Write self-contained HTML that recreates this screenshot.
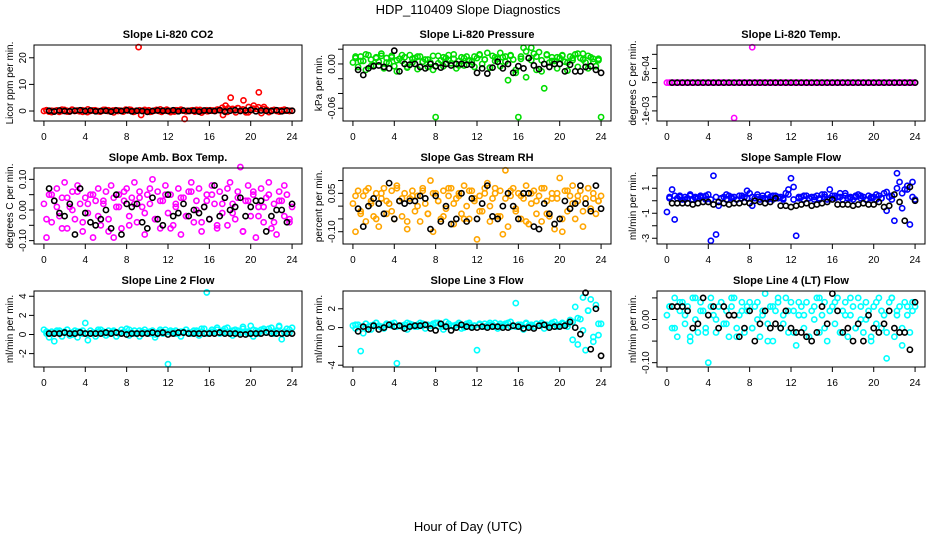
<!DOCTYPE html>
<html><head><meta charset="utf-8"><style>
html,body{margin:0;padding:0;background:#fff;}
svg{display:block;font-family:"Liberation Sans",Arial,sans-serif;}
</style></head><body>
<svg id="chart" width="936" height="540" viewBox="0 0 936 540" xmlns="http://www.w3.org/2000/svg">
<rect width="936" height="540" fill="#fff"/>
<text x="468" y="14" text-anchor="middle" font-size="13">HDP_110409  Slope Diagnostics</text>
<text x="468" y="531" text-anchor="middle" font-size="13">Hour of Day (UTC)</text>
<g id="panels"></g>
</svg>
<script>
const xTicks = [0,4,8,12,16,20,24];
const titles = ["Slope Li-820 CO2","Slope Li-820 Pressure","Slope Li-820 Temp.","Slope Amb. Box Temp.","Slope Gas Stream RH","Slope Sample Flow","Slope Line 2 Flow","Slope Line 3 Flow","Slope Line 4 (LT) Flow"];
const yTitles = ["Licor ppm per min.","kPa per min.","degrees C per min.","degrees C per min.","percent per min.","ml/min per min.","ml/min per min.","ml/min per min.","ml/min per min."];
const colors = ["#ff0000","#00dd00","#ff00ff","#ff00ff","#ffa500","#0000ff","#00ffff","#00ffff","#00ffff"];
const yDomains = [[-3.75,24.8],[-0.0773,0.0257],[-0.001357,0.00133],[-0.111,0.137],[-0.148,0.149],[-3.46,2.62],[-3.4,4.55],[-4.19,3.89],[-0.11,0.066]];
const yTickVals = [[0,10,20],[0.02,0,-0.02,-0.04,-0.06],[0.001,0.0005,0,-0.0005,-0.001],[0.1,0.05,0,-0.05,-0.1],[0.1,0.05,0,-0.05,-0.1],[2,1,0,-1,-2,-3],[4,2,0,-2],[2,0,-2,-4],[0.05,0,-0.05,-0.1]];
const yTickLabels = [["0","10","20"],["","0.00","","","-0.06"],["","5e-04","","","-1e-03"],["0.10","","0.00","","-0.10"],["","0.05","","","-0.10"],["","1","","-1","","-3"],["4","2","0","-2"],["2","0","","-4"],["","0.00","","-0.10"]];

const colored0 = [0,0.3,-0.2,0.1,0,0.2,-0.3,0,0.4,0.1,-0.2,0.5,0,0.2,-0.1,0.3,0.1,-0.4,0,0.2,0.3,0,-0.2,0.1,0.4,0,-0.1,0.2,0.3,0,0.1,-0.2,0.5,0.2,0.4,-0.3,0.1,24,-1.5,0.2,0,0.3,-0.2,0.1,0.4,0,-0.3,0.2,0.5,0.1,0,-0.2,0.3,0.1,0.2,-3,0.1,0,0.3,-0.2,0.2,0.4,0,0.1,-0.1,0.3,0.2,0,0.5,0.3,-1.5,2,1,5,0.5,-0.5,1,0.3,4,-0.5,1.5,0.3,2,0.8,7,-0.8,1.5,0.5,-0.3,0.2,0.4,0,-0.2,0.3,0.1,0.2,0,0.1];
const colored1 = [0.002,0.008,-0.004,0.010,0.004,-0.008,0.012,0.006,-0.002,0.009,0.003,0.014,-0.006,0.008,0.001,0.011,-0.003,-0.010,0.007,0.004,0.009,-0.005,0.012,0.002,0.008,-0.007,0.010,0.003,0.006,-0.004,0.002,-0.008,-0.072,0.011,0.005,-0.003,0.008,0.012,0.001,0.007,-0.006,0.004,0.009,-0.002,0.010,0.005,0.003,-0.004,0.008,0.013,0.000,0.006,0.015,-0.005,0.011,0.004,0.007,-0.003,0.009,0.010,-0.022,0.012,0.006,-0.012,-0.072,0.010,0.022,-0.018,0.008,0.022,0.014,-0.008,0.016,0.005,-0.033,0.012,0.002,0.009,0.004,-0.006,0.008,0.011,0.003,-0.009,0.010,0.005,0.013,-0.004,0.008,0.014,0.002,-0.006,0.009,0.007,-0.003,0.005,-0.072];
const colored2 = [0,0,0,0,0,0,0,0,0,0,0,0,0,0,0,0,0,0,0,0,0,0,0,0,0,0,-0.00125,0,0,0,0,0,0,0.00125,0,0,0,0,0,0,0,0,0,0,0,0,0,0,0,0,0,0,0,0,0,0,0,0,0,0,0,0,0,0,0,0,0,0,0,0,0,0,0,0,0,0,0,0,0,0,0,0,0,0,0,0,0,0,0,0,0,0,0,0,0,0,0];
const colored3 = [0.02,-0.09,0.05,-0.04,0.03,0.07,-0.02,0.04,0.09,-0.06,0.01,0.06,-0.03,0.08,0.02,-0.07,0.04,-0.01,0.05,-0.09,0.03,0.07,-0.05,0.02,0.06,-0.03,0.08,-0.09,0.01,0.05,-0.06,0.03,0.07,-0.02,0.04,0.09,-0.04,0.06,0.01,-0.08,0.05,0.02,0.10,-0.03,0.06,-0.06,0.03,0.08,-0.01,0.05,-0.05,0.02,0.07,-0.08,0.04,-0.02,0.06,0.09,-0.04,0.03,0.07,-0.07,0.01,0.05,-0.03,0.08,0.02,-0.06,0.06,-0.01,0.04,-0.05,0.09,0.02,-0.03,0.06,0.14,-0.07,0.03,0.08,-0.02,0.05,-0.09,0.01,0.07,-0.04,0.04,0.09,-0.06,0.02,-0.08,0.06,0.03,-0.02,0.05,-0.04,0.01];
const colored4 = [0.01,-0.10,0.06,-0.02,0.04,-0.06,0.07,0.02,-0.04,0.05,-0.08,0.03,0.07,-0.03,0.01,0.06,-0.05,0.08,0.02,-0.04,0.05,-0.09,0.03,0.06,-0.02,0.04,-0.06,0.07,0.01,-0.03,0.10,-0.10,0.05,0.02,-0.05,0.06,-0.01,0.04,0.07,-0.07,0.03,0.05,-0.03,0.08,0.00,-0.05,0.06,0.02,-0.13,0.04,-0.02,0.07,0.09,-0.06,0.03,0.05,-0.04,0.06,-0.11,0.14,-0.08,0.04,0.07,-0.02,0.05,-0.05,0.03,0.08,-0.07,0.01,0.06,-0.03,0.04,-0.06,0.07,0.02,-0.04,0.05,-0.09,0.03,0.11,-0.10,0.06,-0.02,0.04,0.08,-0.05,0.02,0.06,-0.08,0.03,0.07,-0.01,0.05,-0.03,0.02,0.04];
const colored5 = [-0.9,0.3,0.9,-1.5,0.2,0.4,0.1,0.3,0.2,0.4,0.1,0.3,0.2,0.4,0.3,0.1,0.5,-3.2,2.0,-2.7,-0.4,0.2,0.3,0.1,0.4,0.2,0.3,0.1,0.4,0.2,0.3,0.8,0.6,-0.4,0.2,0.3,0.1,0.4,0.2,0.5,0.3,0.1,0.4,0.2,0.3,0.1,0.6,0.9,1.8,1.1,-2.8,0.2,0.3,0.1,0.4,0.2,0.3,0.1,0.4,0.2,0.5,0.3,0.1,0.9,0.4,0.2,0.3,0.6,0.1,0.4,0.2,0.3,0.1,0.4,0.5,0.2,0.3,0.1,0.4,0.2,0.3,0.1,0.4,0.2,0.6,-0.8,0.3,0.1,-1.6,2.2,1.5,-0.6,0.9,1.2,-1.9,1.5,0.1];
const colored6 = [0.5,0.1,-0.3,0.3,-0.7,0.2,0.4,-0.2,0.3,0.5,-0.1,0.2,0.4,-0.3,0.3,0.1,1.2,-0.6,0.4,0.2,-0.2,0.3,0.5,0.1,-0.1,0.4,0.2,0.3,-0.2,0.1,0.5,0.3,0.6,-0.1,0.2,0.4,0.1,-0.2,0.3,0.5,0.2,0.1,0.4,-0.3,0.2,0.3,0.1,0.5,-3.1,0.2,0.3,0.4,0.1,-0.2,0.3,0.5,0.2,0.1,0.4,0.2,-0.1,0.3,0.6,4.4,0.2,0.5,0.3,0.7,0.1,0.4,0.6,0.2,0.3,-0.1,0.5,0.4,0.2,0.8,0.3,0.1,0.9,-0.2,0.4,0.3,0.5,0.6,0.2,0.3,0.7,0.1,0.4,0.9,-0.5,0.3,0.6,0.2,0.7];
const colored7 = [0.2,-0.1,0.3,-2.5,-0.6,0.4,0.1,-0.2,0.3,0.5,0.2,0.1,-0.1,0.4,0.3,0.2,0.5,-3.8,0.2,0.1,0.3,-0.2,0.4,0.2,0.1,0.3,0.5,0.2,-0.1,0.3,0.2,0.4,0.5,0.1,0.3,-0.2,0.6,0.4,0.2,0.1,0.3,0.5,-0.1,0.2,0.4,0.3,0.1,0.2,-2.4,0.3,0.1,0.4,0.2,0.5,0.3,0.1,-0.1,0.4,0.2,0.3,0.5,0.1,0.2,2.6,0.3,0.1,-0.2,0.4,0.2,0.3,0.1,0.4,0.2,0.5,-0.1,0.3,0.2,0.4,0.6,0.1,0.3,0.5,0.2,0.4,0.8,-1.3,2.2,-1.8,0.9,3.2,-2.4,1.8,3.0,-1.5,2.4,-0.8,0.4];
const colored8 = [0.01,0.03,-0.02,0.05,-0.04,0.02,0.04,-0.01,0.03,-0.05,0.05,0.00,-0.03,0.04,0.02,-0.02,-0.10,0.05,0.01,-0.03,0.03,0.04,-0.01,0.02,-0.04,0.03,0.05,-0.02,0.01,0.04,-0.03,0.02,0.04,-0.02,0.03,0.00,-0.04,0.02,0.06,-0.01,0.03,-0.05,0.02,0.04,-0.02,0.01,0.05,-0.03,0.04,0.02,-0.06,0.01,0.03,-0.02,0.04,-0.04,0.02,0.00,0.05,-0.03,0.01,0.04,-0.05,0.02,0.03,-0.01,0.05,-0.03,0.02,0.04,-0.04,0.01,0.03,-0.02,0.05,0.00,-0.03,0.04,0.02,-0.05,0.03,-0.01,0.05,-0.02,0.01,-0.09,0.04,0.05,-0.04,0.02,0.03,-0.06,0.04,0.01,-0.03,0.02,0.03];

const extra0 = [0.3,-0.4,0.2,0.5,-0.2,0.4,0.1,-0.3,0.6,0.2,-0.1,0.4,0.3,-0.5,0.2,0.1,0.5,-0.2,0.3,0.4,-0.3,0.2,0.6,0.1,-0.4,0.3,0.5,-0.1,0.2,0.4,-0.6,0.3,0.1,0.5,1.2,-0.3,0.8,1.1,0.6,-0.5,0.9,1.4,0.7,-0.4,0.3,0.2,0.5,0.1];
const extra1 = [0.010,0.004,0.013,-0.003,0.008,0.011,0.002,0.009,0.005,0.012,-0.004,0.007,0.010,0.003,0.006,0.011,0.001,0.009,0.005,0.013,-0.002,0.008,0.004,0.010,0.012,0.006,-0.005,0.009,0.015,0.003,0.011,-0.008,0.007,0.017,0.005,0.010,-0.010,0.013,0.004,0.009,0.012,0.002,0.008,0.014,0.006,0.011,0.003,0.007];
const extra2 = [0,0,0,0,0,0,0,0,0,0,0,0,0,0,0,0,0,0,0,0,0,0,0,0,0,0,0,0,0,0,0,0,0,0,0,0,0,0,0,0,0,0,0,0,0,0,0,0];
const extra3 = [-0.03,0.05,0.01,-0.06,0.04,0.00,0.06,-0.04,0.02,0.05,-0.02,0.03,-0.07,0.04,0.01,0.06,-0.05,0.02,0.04,-0.01,0.07,-0.03,0.03,0.05,-0.06,0.01,0.04,-0.02,0.06,0.00,-0.04,0.03,0.05,-0.05,0.02,0.07,-0.01,0.04,-0.07,0.03,0.06,-0.02,0.01,0.05,-0.04,0.03,0.08,-0.03];
const extra4 = [0.04,-0.03,0.06,0.01,-0.05,0.05,0.02,-0.02,0.07,0.03,-0.06,0.04,0.00,0.06,-0.03,0.05,0.02,-0.04,0.07,0.01,0.04,-0.05,0.06,0.03,-0.02,0.05,0.00,0.07,-0.04,0.03,0.06,-0.01,0.04,-0.06,0.05,0.02,0.07,-0.03,0.03,0.05,-0.05,0.06,0.01,0.04,-0.02,0.07,0.03,0.02];
const extra5 = [0.2,0.4,0.3,0.1,0.5,0.2,0.3,0.4,0.1,0.3,0.2,0.5,0.3,0.1,0.4,0.2,0.3,0.5,0.2,0.1,0.4,0.3,0.2,0.5,0.1,0.3,0.4,0.2,0.3,0.1,0.5,0.2,0.4,0.3,0.6,0.2,0.3,0.4,0.1,0.3,0.5,0.2,0.7,0.4,1.0,0.6,0.9,0.3];
const extra6 = [0.3,0.1,0.4,0.2,0.5,0.0,0.3,0.4,0.1,0.2,0.5,0.3,0.1,0.4,0.2,0.3,0.5,0.1,0.4,0.2,0.3,0.0,0.5,0.2,0.4,0.1,0.3,0.5,0.2,0.4,0.6,0.1,0.3,0.5,0.2,0.7,0.4,0.2,0.6,0.3,0.5,0.1,0.4,0.6,0.3,0.8,0.2,0.5];
const extra7 = [0.3,0.1,0.4,0.2,0.5,0.0,0.3,0.4,0.1,0.2,0.5,0.3,0.1,0.4,0.2,0.3,0.5,0.1,0.4,0.2,0.3,0.0,0.5,0.2,0.4,0.1,0.3,0.5,0.2,0.4,0.6,0.1,0.3,0.5,0.2,0.4,0.3,0.2,0.5,0.3,0.4,0.1,0.6,1.0,-0.3,1.8,-1.0,0.4];
const extra8 = [0.03,-0.02,0.04,0.01,-0.04,0.05,0.02,-0.03,0.03,0.00,0.04,-0.01,0.05,-0.04,0.02,0.03,-0.02,0.04,0.01,-0.05,0.03,0.05,-0.01,0.02,-0.03,0.04,0.01,-0.04,0.03,0.05,-0.02,0.02,0.04,-0.03,0.01,0.05,-0.02,0.03,0.00,-0.04,0.04,0.02,-0.03,0.05,0.01,-0.02,0.03,0.04];

const black0 = [0.1,-0.2,0.2,0,-0.1,0.1,0.3,0,0.2,-0.1,0,0.1,-0.2,0.2,0,0.3,-0.1,0.1,0,-0.3,0,0.2,0.1,0,0.3,-0.1,0.2,0,0.1,-0.2,0.2,0.1,0,0.3,-0.2,0.1,0.3,0,0.2,0.4,-0.1,0.2,0.1,0,0.3,-0.1,0.2,0.1];
const black1 = [-0.008,-0.015,-0.006,-0.003,-0.002,-0.004,-0.006,0.018,-0.010,0.000,-0.001,0.000,-0.004,-0.006,0.000,-0.003,-0.005,0.000,-0.002,0.000,0.000,-0.001,-0.001,-0.012,-0.006,-0.013,-0.005,0.003,-0.006,0.000,-0.012,-0.003,-0.006,0.008,-0.002,-0.007,0.000,-0.004,0.000,0.000,-0.010,-0.001,-0.010,-0.010,-0.004,-0.003,-0.008,-0.012];
const black2 = [0,0,0,0,0,0,0,0,0,0,0,0,0,0,0,0,0,0,0,0,0,0,0,0,0,0,0,0,0,0,0,0,0,0,0,0,0,0,0,0,0,0,0,0,0,0,0,0];
const black3 = [0.07,0.03,-0.01,-0.02,0.02,-0.08,0.07,-0.01,-0.04,-0.05,-0.03,0.00,-0.06,0.05,-0.08,0.02,0.01,0.02,-0.04,-0.06,0.04,-0.03,-0.05,0.05,-0.02,-0.01,0.02,-0.02,0.00,-0.01,0.01,-0.03,0.08,-0.02,0.04,0.00,0.01,0.04,-0.02,0.01,0.03,0.03,-0.07,-0.02,0.00,0.00,-0.04,0.02];
const black4 = [-0.01,-0.08,0.00,0.03,0.01,-0.03,0.09,-0.05,0.02,0.01,0.02,0.02,0.04,0.03,-0.09,0.04,-0.06,0.00,-0.07,-0.05,0.05,-0.06,0.03,-0.05,0.01,0.08,-0.04,-0.05,0.00,0.05,0.00,-0.05,0.05,0.05,-0.08,-0.09,0.01,-0.03,-0.07,-0.05,0.02,-0.01,0.01,0.08,0.01,-0.02,0.08,-0.01];
const black5 = [-0.2,-0.2,-0.2,-0.2,-0.3,-0.2,-0.1,-0.1,-0.3,-0.1,-0.2,-0.3,-0.2,-0.2,-0.1,-0.2,0.0,-0.1,-0.2,-0.1,0.2,-0.4,-0.4,-0.5,-0.4,-0.3,-0.2,-0.4,-0.3,-0.2,-0.1,0.1,-0.3,-0.3,-0.3,-0.4,-0.3,-0.2,-0.3,-0.3,-0.1,-0.5,-0.4,0.5,-0.1,-1.6,1.1,0.0];
const black6 = [0.1,0.1,0.1,0.2,0.1,0.1,0.2,0.1,0.1,0.1,0.1,0.2,0.1,0.2,0.1,0.0,0.1,0.1,0.1,0.1,0.2,0.1,0.2,0.0,0.1,0.2,0.2,0.1,0.1,0.1,0.1,0.1,0.1,0.2,0.1,0.1,0.1,0.0,0.0,0.1,0.1,0.1,0.2,0.1,0.1,0.1,0.1,0.1];
const black7 = [-0.4,0.1,-0.2,0.2,-0.2,0.0,0.3,0.1,0.2,-0.1,0.1,0.2,0.2,0.3,-0.1,-0.3,0.4,0.1,-0.3,0.0,0.3,0.1,0.0,0.0,0.1,0.0,0.1,0.1,0.0,0.0,0.2,0.1,-0.1,0.0,-0.1,0.2,0.3,0.0,0.1,0.1,0.2,0.6,0.0,-0.7,3.7,-2.3,2.0,-3.0];
const black8 = [0.03,0.03,0.03,0.02,-0.02,-0.01,0.05,0.01,0.03,-0.02,0.03,0.01,0.01,-0.04,-0.02,0.02,-0.05,-0.01,0.02,-0.02,-0.01,-0.02,0.02,-0.02,-0.03,-0.03,-0.04,-0.05,-0.03,0.03,-0.01,0.06,0.02,-0.03,-0.02,-0.05,-0.01,-0.05,0.01,-0.02,-0.03,-0.01,0.02,-0.02,-0.03,-0.03,-0.07,0.04];

const coloredSeries = [colored0,colored1,colored2,colored3,colored4,colored5,colored6,colored7,colored8];
const extraSeries = [extra0,extra1,extra2,extra3,extra4,extra5,extra6,extra7,extra8];
const blackSeries = [black0,black1,black2,black3,black4,black5,black6,black7,black8];

const NS = "http://www.w3.org/2000/svg";
const root = document.getElementById("panels");
const colX = [34,343,657], rowY = [45,168,291], W = 268, H = 76;
function mk(tag, attrs, parent){ const e=document.createElementNS(NS,tag); for(const k in attrs) e.setAttribute(k,attrs[k]); parent.appendChild(e); return e; }

for(let p=0;p<9;p++){
  const bx = colX[p%3], by = rowY[Math.floor(p/3)];
  const g = mk("g",{},root);
  
  
  const xs = h => bx + (h + 0.96) / 25.92 * W;
  const [y0,y1] = yDomains[p];
  const ys = v => by + H - (v - y0) / (y1 - y0) * H;
  const t = mk("text",{x:bx+W/2,y:by-7,"text-anchor":"middle","font-size":"11","font-weight":"bold"},g);
  t.textContent = titles[p];
  
  
  const yt = mk("text",{x:0,y:0,"text-anchor":"middle","font-size":"10",transform:`translate(${bx-21},${by+H/2}) rotate(-90)`},g);
  yt.textContent = yTitles[p];
  
  
  const cs = coloredSeries[p];
  cs.forEach((v,i)=>{
    const c = mk("circle",{cx:xs(i*24/(cs.length-1)),cy:ys(v),r:2.6,fill:"none",stroke:colors[p],"stroke-width":1.6},g);
    
    
  });
  const es = extraSeries[p];
  es.forEach((v,i)=>{
    const c = mk("circle",{cx:xs(0.25+i*0.5),cy:ys(v),r:2.6,fill:"none",stroke:colors[p],"stroke-width":1.6},g);
    
    
  });
  const bs = blackSeries[p];
  bs.forEach((v,i)=>{
    const c = mk("circle",{cx:xs(0.5+i*0.5),cy:ys(v),r:2.6,fill:"none",stroke:"#000","stroke-width":1.6},g);
    
    
  });
  const box = mk("rect",{x:bx,y:by,width:W,height:H,fill:"none",stroke:"#000","stroke-width":1},g);
  
  
  const xa = mk("g",{},g);
  
  
  mk("line",{x1:xs(0),x2:xs(24),y1:by+H,y2:by+H,stroke:"#000"},xa);
  xTicks.forEach(h=>{
    mk("line",{x1:xs(h),x2:xs(h),y1:by+H,y2:by+H+5,stroke:"#000"},xa);
    const l = mk("text",{x:xs(h),y:by+H+19,"text-anchor":"middle","font-size":"10"},xa);
    l.textContent = String(h);
    
    
  });
  const ya = mk("g",{},g);
  
  
  const tv = yTickVals[p];
  tv.forEach((v,i)=>{
    const yy = ys(v);
    mk("line",{x1:bx-5,x2:bx,y1:yy,y2:yy,stroke:"#000"},ya);
    const lab = yTickLabels[p][i];
    if(lab){
      const l = mk("text",{x:0,y:0,"text-anchor":"middle","font-size":"10",transform:`translate(${bx-8},${yy}) rotate(-90)`},ya);
      l.textContent = lab;
      
      
    }
  });
  mk("line",{x1:bx,x2:bx,y1:ys(tv[0]),y2:ys(tv[tv.length-1]),stroke:"#000"},ya);
}
</script>
</body></html>
